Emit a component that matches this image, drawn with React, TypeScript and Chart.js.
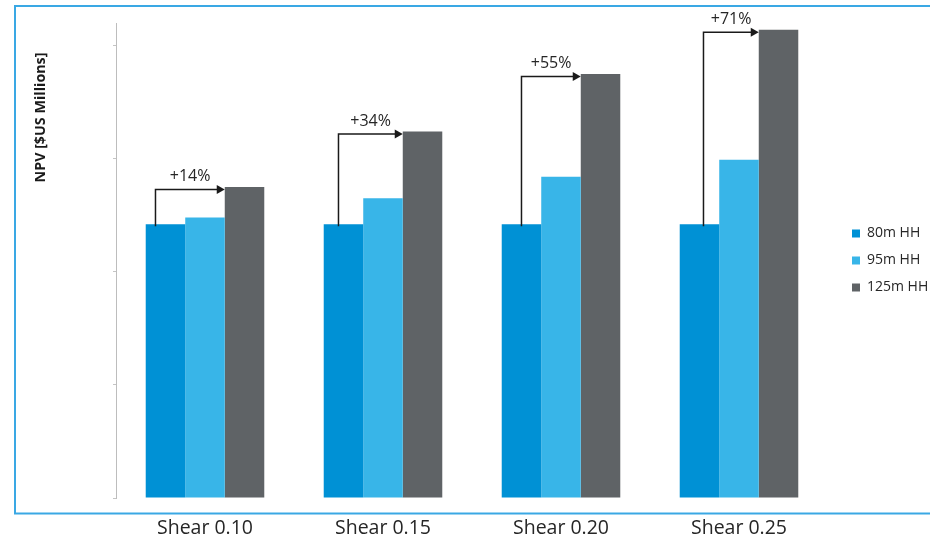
import React, { useEffect, useRef } from 'react';
import { Chart, registerables } from 'chart.js';
import type { Plugin } from 'chart.js';

Chart.register(...registerables);

// NPV by hub height for each wind shear case ($US millions)
const CATEGORIES = ['Shear 0.10', 'Shear 0.15', 'Shear 0.20', 'Shear 0.25'];
const SERIES_LABELS = ['80m HH', '95m HH', '125m HH'];
const NPV_80M = [24.2, 24.2, 24.2, 24.2];
const NPV_95M = [24.8, 26.5, 28.4, 29.9];
const NPV_125M = [27.5, 32.4, 37.5, 41.4];
const Y_MAX = 42;
const Y_STEP = 10;

const COLORS = ['#0091d5', '#38b5e8', '#5f6366'];
const FRAME_COLOR = '#3aa8e4';
const TEXT_COLOR = '#262626';
const FONT = '"Open Sans", "Noto Sans", sans-serif';
// horizontal nudge of each arrow's stem from the 80m bar centre (px)
const ARROW_DX = [-10, -5, 0, 4];

const gainLabel = (i: number) =>
  `+${Math.round((NPV_125M[i] / NPV_80M[i] - 1) * 100)}%`;

const framePlugin: Plugin<'bar'> = {
  id: 'frame',
  beforeDraw(chart) {
    const { ctx } = chart;
    ctx.save();
    ctx.fillStyle = '#ffffff';
    ctx.fillRect(0, 0, chart.width, chart.height);
    ctx.strokeStyle = FRAME_COLOR;
    ctx.lineWidth = 2;
    ctx.strokeRect(15, 6, chart.width, 507.5);
    ctx.restore();
  },
  afterDraw(chart) {
    const { ctx } = chart;
    ctx.save();
    ctx.translate(41, 117.5);
    ctx.rotate(-Math.PI / 2);
    ctx.fillStyle = '#1a1a1a';
    ctx.font = `bold 14.3px ${FONT}`;
    ctx.textAlign = 'center';
    ctx.textBaseline = 'middle';
    ctx.fillText('NPV [$US Millions]', 0, 0);
    ctx.restore();
  },
};

// "+x%" arrows from the 80m bar up and across to the 125m bar
const gainArrowPlugin: Plugin<'bar'> = {
  id: 'gainArrows',
  afterDatasetsDraw(chart) {
    const { ctx } = chart;
    const base = chart.getDatasetMeta(0).data;
    const tall = chart.getDatasetMeta(2).data;
    CATEGORIES.forEach((_, i) => {
      const b0 = base[i] as any;
      const b2 = tall[i] as any;
      const xStem = b0.x + ARROW_DX[i];
      const yStart = b0.y + 2;
      const yLine = b2.y + 2.5;
      const xTip = b2.x - b2.width / 2;
      ctx.save();
      ctx.strokeStyle = '#1a1a1a';
      ctx.fillStyle = '#1a1a1a';
      ctx.lineWidth = 1.5;
      ctx.beginPath();
      ctx.moveTo(xStem, yStart);
      ctx.lineTo(xStem, yLine);
      ctx.lineTo(xTip - 6, yLine);
      ctx.stroke();
      ctx.beginPath();
      ctx.moveTo(xTip, yLine);
      ctx.lineTo(xTip - 8, yLine - 4.5);
      ctx.lineTo(xTip - 8, yLine + 4.5);
      ctx.closePath();
      ctx.fill();
      ctx.fillStyle = TEXT_COLOR;
      ctx.font = `16px ${FONT}`;
      ctx.textAlign = 'center';
      ctx.textBaseline = 'alphabetic';
      ctx.fillText(gainLabel(i), (xStem + xTip) / 2, yLine - 8);
      ctx.restore();
    });
  },
};

export default function App() {
  const canvasRef = useRef<HTMLCanvasElement>(null);

  useEffect(() => {
    const canvas = canvasRef.current;
    if (!canvas) return;
    const seriesData = [NPV_80M, NPV_95M, NPV_125M];
    const chart = new Chart(canvas, {
      type: 'bar',
      data: {
        labels: CATEGORIES,
        datasets: SERIES_LABELS.map((label, k) => ({
          label,
          data: seriesData[k],
          backgroundColor: COLORS[k],
          borderWidth: 0,
          categoryPercentage: 0.666,
          barPercentage: 1.0,
        })),
      },
      options: {
        animation: false,
        responsive: false,
        layout: { padding: { left: 113, top: 23, right: 0, bottom: 0 } },
        plugins: {
          tooltip: { enabled: false },
          legend: {
            position: 'right',
            align: 'center',
            fullSize: false,
            maxWidth: 91,
            labels: {
              boxWidth: 8,
              boxHeight: 8,
              padding: 13,
              color: TEXT_COLOR,
              font: { family: FONT, size: 14 },
            },
          },
        },
        scales: {
          x: {
            grid: { display: false, drawTicks: false },
            border: { display: false },
            ticks: {
              color: TEXT_COLOR,
              padding: 21,
              font: { family: FONT, size: 19.5, lineHeight: 1 },
            },
            afterFit: (scale: any) => {
              scale.height = 42;
            },
          },
          y: {
            min: 0,
            max: Y_MAX,
            ticks: { display: false, stepSize: Y_STEP },
            grid: { drawOnChartArea: false, tickLength: 3, color: '#c4c4c4' },
            border: { color: '#bdbdbd', width: 1 },
            afterBuildTicks: (scale: any) => {
              scale.ticks = scale.ticks.filter((t: any) => t.value % Y_STEP === 0);
            },
          },
          gap: {
            type: 'linear',
            position: 'right',
            display: true,
            grid: { display: false, drawTicks: false },
            border: { display: false },
            ticks: { display: false },
            afterFit: (scale: any) => {
              scale.width = 11;
            },
          },
        },
      },
      plugins: [framePlugin, gainArrowPlugin],
    } as any);
    return () => chart.destroy();
  }, []);

  return (
    <div style={{ position: 'absolute', left: 0, top: 0, width: 930, height: 540, background: '#fff' }}>
      <canvas ref={canvasRef} width={930} height={540} style={{ display: 'block' }} />
    </div>
  );
}
